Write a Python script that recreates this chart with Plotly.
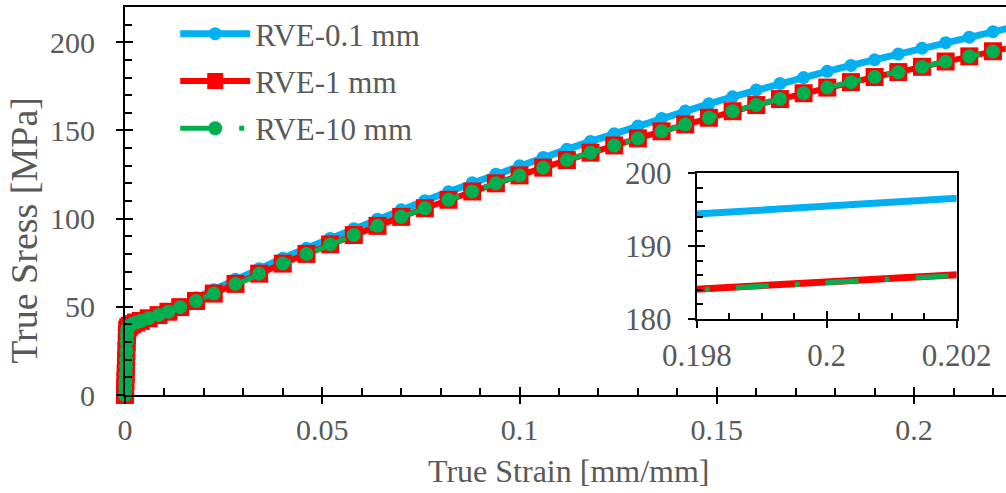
import plotly.graph_objects as go

# ---------------- data ----------------
strain = [0, 0.00006, 0.00011, 0.00017, 0.00023, 0.00029, 0.00036, 0.00043, 0.00049, 0.00055,
          0.0008, 0.0012, 0.0018, 0.0028, 0.004,
          0.006, 0.0085, 0.011, 0.014, 0.018, 0.0225, 0.028,
          0.034, 0.040, 0.046, 0.052, 0.058, 0.064, 0.070, 0.076, 0.082, 0.088, 0.094,
          0.100, 0.106, 0.112, 0.118, 0.124, 0.130, 0.136, 0.142, 0.148, 0.154,
          0.160, 0.166, 0.172, 0.178, 0.184, 0.190, 0.196, 0.202, 0.208, 0.214, 0.220, 0.226]

stress_rve_01 = [0, 4, 8, 12, 16, 20, 25, 30, 34, 37,
                 38.4, 39.5, 40.4, 41.4, 42.4,
                 44.1, 46.1, 48.2, 51.0, 55.1, 59.7, 65.6,
                 71.6, 77.5, 83.2, 88.8, 94.3, 99.7, 105.0, 110.2, 115.3, 120.3, 125.2,
                 130.0, 134.7, 139.3, 143.8, 148.2, 152.5, 156.8, 161.0, 165.1, 169.1,
                 172.9, 176.6, 180.0, 183.5, 186.9, 190.1, 193.3, 196.6, 199.8, 202.9, 206.0, 209.1]

stress_rve_1 = [0, 4, 8, 12, 16, 20, 25, 30, 34, 37,
                38.3, 39.3, 40.2, 41.1, 42.0,
                43.5, 45.3, 47.2, 49.8, 53.3, 57.5, 63.0,
                68.8, 74.5, 80.0, 85.4, 90.7, 95.9, 101.0, 105.9, 110.7, 115.4, 120.0,
                124.5, 128.9, 133.2, 137.4, 141.5, 145.5, 149.5, 153.4, 157.2, 160.9,
                164.4, 167.8, 171.1, 174.3, 177.4, 180.3, 183.1, 186.1, 189.1, 192.0, 194.9, 197.8]

stress_rve_10 = [0, 4, 8, 12, 16, 20, 25, 30, 34, 37,
                 38.3, 39.3, 40.2, 41.1, 42.0,
                 43.5, 45.3, 47.2, 49.8, 53.3, 57.5, 63.0,
                 68.8, 74.5, 80.0, 85.4, 90.7, 95.9, 101.0, 105.9, 110.7, 115.4, 120.0,
                 124.5, 128.9, 133.2, 137.4, 141.5, 145.5, 149.5, 153.4, 157.2, 160.9,
                 164.4, 167.8, 171.1, 174.3, 177.4, 180.3, 183.0, 186.0, 189.0, 191.9, 194.8, 197.7]

series_names = ["RVE-0.1 mm", "RVE-1 mm", "RVE-10 mm"]

x_tickvals = [0, 0.05, 0.1, 0.15, 0.2]
x_ticktext = ["0", "0.05", "0.1", "0.15", "0.2"]
y_tickvals = [0, 50, 100, 150, 200]
y_ticktext = ["0", "50", "100", "150", "200"]
inset_x_tickvals = [0.198, 0.2, 0.202]
inset_x_ticktext = ["0.198", "0.2", "0.202"]
inset_y_tickvals = [180, 190, 200]
inset_y_ticktext = ["180", "190", "200"]

x_title = "True Strain [mm/mm]"
y_title = "True Sress [MPa]"

# ---------------- styling ----------------
BLUE = "#00B0F0"
RED = "#FF0000"
GREEN = "#00B050"
GRAY = "#595959"
FONT = "Liberation Serif"
GREEN_DASH = "33px,26px,5px,26px"

fig = go.Figure()

# main curves
fig.add_trace(go.Scatter(x=strain, y=stress_rve_01, name=series_names[0], mode="lines+markers",
                         line=dict(color=BLUE, width=7),
                         marker=dict(symbol="circle", size=13, color=BLUE),
                         cliponaxis=False, legendgroup="a"))
fig.add_trace(go.Scatter(x=strain, y=stress_rve_1, name=series_names[1], mode="lines+markers",
                         line=dict(color=RED, width=6),
                         marker=dict(symbol="square", size=18, color=RED),
                         cliponaxis=False, legendgroup="b"))
fig.add_trace(go.Scatter(x=strain, y=stress_rve_10, name=series_names[2], mode="lines+markers",
                         line=dict(color=GREEN, width=5, dash=GREEN_DASH),
                         marker=dict(symbol="circle", size=14, color=GREEN),
                         cliponaxis=False, legendgroup="c"))

# inset curves
fig.add_trace(go.Scatter(x=strain, y=stress_rve_01, mode="lines", showlegend=False,
                         line=dict(color=BLUE, width=7), xaxis="x2", yaxis="y2"))
fig.add_trace(go.Scatter(x=strain, y=stress_rve_1, mode="lines", showlegend=False,
                         line=dict(color=RED, width=7), xaxis="x2", yaxis="y2"))
fig.add_trace(go.Scatter(x=strain, y=stress_rve_10, mode="lines", showlegend=False,
                         line=dict(color=GREEN, width=5, dash=GREEN_DASH), xaxis="x2", yaxis="y2"))

# dummy traces so the overlay axes (outer halves of crossing ticks) are drawn
fig.add_trace(go.Scatter(x=[None], y=[None], xaxis="x3", yaxis="y", showlegend=False, hoverinfo="skip"))
fig.add_trace(go.Scatter(x=[None], y=[None], xaxis="x", yaxis="y3", showlegend=False, hoverinfo="skip"))
fig.add_trace(go.Scatter(x=[None], y=[None], xaxis="x4", yaxis="y2", showlegend=False, hoverinfo="skip"))
fig.add_trace(go.Scatter(x=[None], y=[None], xaxis="x2", yaxis="y4", showlegend=False, hoverinfo="skip"))

X_RANGE = [0, 0.2233]
Y_RANGE = [0, 220]
IX_RANGE = [0.198, 0.202]
IY_RANGE = [180, 200]
INSET_X_DOM = [0.649, 0.944]
INSET_Y_DOM = [0.196, 0.572]

tickfont = dict(family=FONT, size=30, color=GRAY)
inset_tickfont = dict(family=FONT, size=31, color=GRAY)
base = dict(showgrid=False, zeroline=False, tickcolor="black", tickwidth=2, automargin=False)

fig.update_layout(
    width=1006, height=493,
    margin=dict(l=125, r=0, t=7, b=98),
    plot_bgcolor="white", paper_bgcolor="white",
    font=dict(family=FONT, size=30, color=GRAY),
    xaxis=dict(domain=[0, 1], range=X_RANGE, tickvals=x_tickvals, ticktext=x_ticktext,
               ticks="inside", ticklen=8, showline=True, linecolor="black", linewidth=2,
               mirror=True, tickfont=tickfont, ticklabelstandoff=7,
               minor=dict(dtick=0.01, ticks="inside", ticklen=7, tickwidth=1.5, tickcolor="black"),
               anchor="y", **base),
    yaxis=dict(domain=[0, 1], range=Y_RANGE, tickvals=y_tickvals, ticktext=y_ticktext,
               ticks="inside", ticklen=8, showline=True, linecolor="black", linewidth=2,
               tickfont=tickfont, ticklabelstandoff=22,
               minor=dict(dtick=10, ticks="inside", ticklen=7, tickwidth=1.5, tickcolor="black"),
               anchor="x", **base),
    xaxis3=dict(overlaying="x", anchor="y", range=X_RANGE, tickvals=x_tickvals,
                ticks="outside", ticklen=8, showticklabels=False, showline=False, **base),
    yaxis3=dict(overlaying="y", anchor="x", range=Y_RANGE, tickvals=y_tickvals,
                ticks="outside", ticklen=8, showticklabels=False, showline=False, **base),
    xaxis2=dict(domain=INSET_X_DOM, range=IX_RANGE, tickvals=inset_x_tickvals, ticktext=inset_x_ticktext,
                ticks="inside", ticklen=8, showline=True, linecolor="black", linewidth=2,
                mirror=True, tickfont=inset_tickfont, ticklabelstandoff=8,
                minor=dict(dtick=0.0005, ticks="inside", ticklen=6, tickwidth=1.5, tickcolor="black"),
                anchor="y2", **base),
    yaxis2=dict(domain=INSET_Y_DOM, range=IY_RANGE, tickvals=inset_y_tickvals, ticktext=inset_y_ticktext,
                ticks="inside", ticklen=8, showline=True, linecolor="black", linewidth=2,
                mirror=True, tickfont=inset_tickfont, ticklabelstandoff=17,
                minor=dict(dtick=2, ticks="inside", ticklen=6, tickwidth=1.5, tickcolor="black"),
                anchor="x2", **base),
    xaxis4=dict(overlaying="x2", anchor="y2", range=IX_RANGE, tickvals=inset_x_tickvals,
                ticks="outside", ticklen=8, showticklabels=False, showline=False, **base),
    yaxis4=dict(overlaying="y2", anchor="x2", range=IY_RANGE, tickvals=inset_y_tickvals,
                ticks="outside", ticklen=8, showticklabels=False, showline=False, **base),
    legend=dict(x=0.057, y=1.0, xanchor="left", yanchor="top", bgcolor="rgba(0,0,0,0)",
                font=dict(family=FONT, size=31, color=GRAY), itemwidth=70, tracegroupgap=4,
                traceorder="grouped"),
    annotations=[
        dict(text=x_title, xref="paper", yref="paper", x=0.503, y=-0.195, xanchor="center",
             yanchor="middle", showarrow=False, font=dict(family=FONT, size=32, color=GRAY)),
        dict(text=y_title, xref="paper", yref="paper", x=-0.115, y=0.425, xanchor="center",
             yanchor="middle", textangle=-90, showarrow=False,
             font=dict(family=FONT, size=38, color=GRAY)),
    ],
)

fig.write_html("out.html")
